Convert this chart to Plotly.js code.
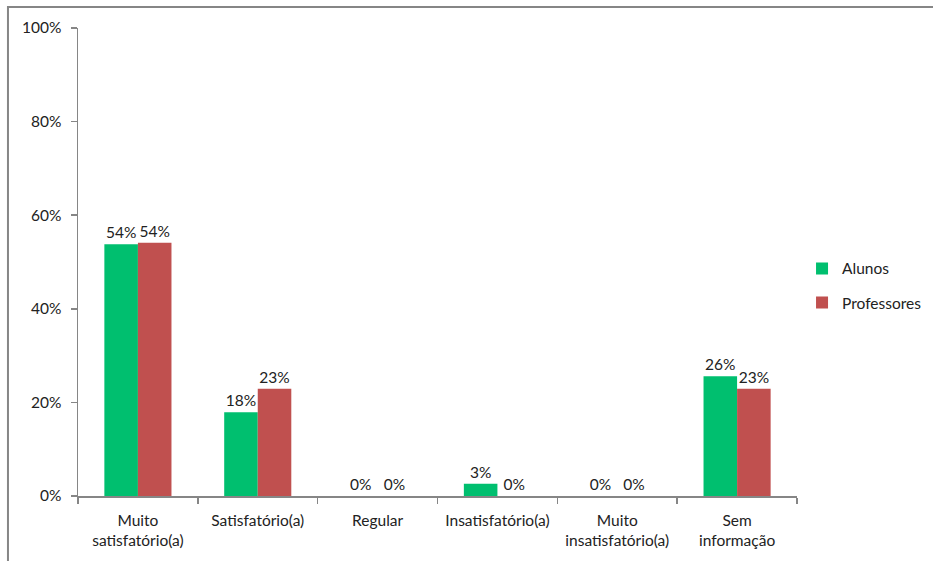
<!DOCTYPE html>
<html>
<head>
<meta charset="utf-8">
<script src="https://cdn.plot.ly/plotly-3.0.1.min.js"></script>
<style>
  html, body { margin: 0; padding: 0; background: #fff; }
  #chart { width: 933px; height: 561px; }
</style>
</head>
<body>
<div id="chart"></div>
<script>
// Satisfaction levels (answer categories)
const categories = [
  'Muito<br>satisfatório(a)',
  'Satisfatório(a)',
  'Regular',
  'Insatisfatório(a)',
  'Muito<br>insatisfatório(a)',
  'Sem<br>informação'
];

// Share of answers per group, in percent
const alunos = [53.8, 17.9, 0, 2.6, 0, 25.6];
const professores = [54.1, 22.9, 0, 0, 0, 22.9];

const yTicks = [0, 20, 40, 60, 80, 100];
const yTickLabels = ['0%', '20%', '40%', '60%', '80%', '100%'];

const FONT = 'Lato, "Open Sans", sans-serif';
const FS = 15.5;
const TEXT = '#222222';
const AXIS = '#868686';

function barTrace(name, values, color, group) {
  return {
    type: 'bar',
    name: name,
    x: categories,
    y: values,
    marker: { color: color },
    text: values.map(v => Math.round(v) + '%'),
    textposition: 'outside',
    cliponaxis: false,
    textfont: { family: FONT, size: FS, color: TEXT },
    legendgroup: group,
    hoverinfo: 'x+y'
  };
}

const data = [
  barTrace('Alunos', alunos, '#00BF6F', 'a'),
  barTrace('Professores', professores, '#C0504F', 'b')
];

const layout = {
  width: 933,
  height: 561,
  margin: { l: 78, r: 136, t: 28, b: 65, pad: 0, autoexpand: false },
  paper_bgcolor: '#ffffff',
  plot_bgcolor: '#ffffff',
  font: { family: FONT, size: FS, color: TEXT },
  barmode: 'group',
  bargap: 0.44,
  bargroupgap: 0,
  showlegend: true,
  legend: {
    x: 1.007, xanchor: 'left',
    y: 0.449, yanchor: 'middle',
    font: { family: FONT, size: FS, color: TEXT },
    tracegroupgap: 11,
    itemwidth: 30,
    bgcolor: 'rgba(0,0,0,0)'
  },
  xaxis: {
    type: 'category',
    showgrid: false,
    showline: true,
    linecolor: AXIS,
    linewidth: 1.5,
    ticks: 'outside',
    tickson: 'boundaries',
    ticklen: 6,
    tickcolor: AXIS,
    tickwidth: 1.5,
    ticklabelstandoff: 10,
    tickfont: { family: FONT, size: FS, color: TEXT },
    zeroline: false,
    fixedrange: true
  },
  yaxis: {
    range: [0, 100],
    tickvals: yTicks,
    ticktext: yTickLabels,
    showgrid: false,
    showline: true,
    linecolor: AXIS,
    linewidth: 1.5,
    ticks: 'outside',
    ticklen: 6,
    tickcolor: AXIS,
    tickwidth: 1.5,
    ticklabelstandoff: 6,
    tickfont: { family: FONT, size: FS, color: TEXT },
    zeroline: false,
    fixedrange: true
  },
  shapes: [{
    type: 'rect',
    xref: 'paper', yref: 'paper',
    x0: -0.0974, x1: 1.4,
    y0: -0.3, y1: 1.0449,
    line: { color: AXIS, width: 2 },
    fillcolor: 'rgba(0,0,0,0)',
    layer: 'below'
  }]
};

Plotly.newPlot('chart', data, layout, { displayModeBar: false, staticPlot: true });
</script>
</body>
</html>
